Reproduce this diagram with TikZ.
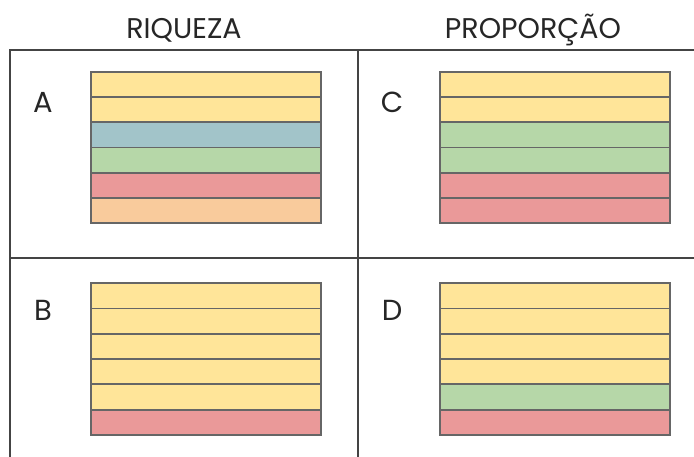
\documentclass[tikz,border=0pt]{standalone}
\usepackage{fontspec}
\setmainfont{Poppins}
\definecolor{cyel}{HTML}{FFE599}
\definecolor{cblu}{HTML}{A2C4C9}
\definecolor{cgrn}{HTML}{B6D7A8}
\definecolor{cred}{HTML}{EA9999}
\definecolor{corg}{HTML}{F9CB9C}
\definecolor{frame}{HTML}{444444}
\definecolor{edge}{HTML}{666666}
\tikzset{
  strip/.style={draw=edge, line width=1.8pt, minimum width=230pt, minimum height=25.3pt, inner sep=0pt, outer sep=0pt, anchor=north west},
  title/.style={font=\fontsize{28.5}{30}\selectfont, text=black!85, inner sep=0pt},
  letter/.style={font=\fontsize{29}{30}\selectfont, text=black!85, inner sep=0pt},
  grid/.style={draw=frame, line width=2pt}
}
\begin{document}
\begin{tikzpicture}[x=1pt,y=-1pt]
\useasboundingbox (0,0) rectangle (694,457);
\node[title] (t1) at (184,30) {RIQUEZA};
\node[title] (t2) at (533,30) {PROPORÇÃO};
\draw[grid] (10,457) -- (10,50.5) -- (694,50.5);
\draw[grid] (358,50.5) -- (358,457);
\draw[grid] (10,257.7) -- (694,257.7);
\node[letter] (la) at (43,102) {A};
\node[letter] (lb) at (43,310) {B};
\node[letter] (lc) at (392,102) {C};
\node[letter] (ld) at (392,310) {D};
% A
\foreach \c [count=\i from 0] in {cyel,cyel,cblu,cgrn,cred,corg}
  \node[strip, fill=\c] (a\i) at (91,71.7+25.27*\i) {};
% C
\foreach \c [count=\i from 0] in {cyel,cyel,cgrn,cgrn,cred,cred}
  \node[strip, fill=\c] (c\i) at (440,71.7+25.27*\i) {};
% B
\foreach \c [count=\i from 0] in {cyel,cyel,cyel,cyel,cyel,cred}
  \node[strip, fill=\c] (b\i) at (91,283.3+25.27*\i) {};
% D
\foreach \c [count=\i from 0] in {cyel,cyel,cyel,cyel,cgrn,cred}
  \node[strip, fill=\c] (d\i) at (440,283.3+25.27*\i) {};
\end{tikzpicture}
\end{document}
